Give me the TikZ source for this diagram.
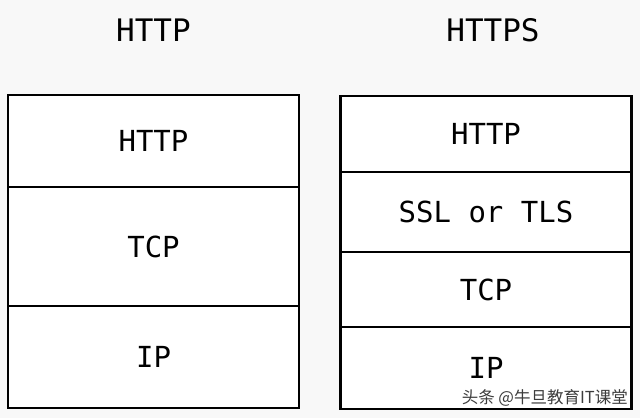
\documentclass[tikz,border=0pt]{standalone}
\usepackage{fontspec}
\usetikzlibrary{positioning}
\newfontfamily\stackfont{DejaVu Sans Mono}
\newfontfamily\cjk{Noto Sans CJK SC}
\definecolor{paper}{RGB}{248,248,248}
\definecolor{inkgray}{RGB}{60,60,60}
\tikzset{
  layer/.style = {
    draw, fill=white, line width=2.2pt, outer sep=0pt, inner sep=0pt,
    minimum width=291pt, text height=21pt, text depth=0pt,
    font=\stackfont\fontsize{29}{34}\selectfont
  },
  stacktitle/.style = {font=\stackfont\fontsize{31}{36}\selectfont, inner sep=0pt},
  watermark/.style = {font=\cjk\fontsize{16.5}{19}\selectfont, text=inkgray, inner sep=0pt}
}

\begin{document}
\begin{tikzpicture}[x=1pt,y=-1pt]
  % canvas
  \fill[paper] (0,0) rectangle (640,418);
  \useasboundingbox (0,0) rectangle (640,418);
  % titles
  \node[stacktitle] (ltitle) at (153.5,30) {HTTP};
  \node[stacktitle] (rtitle) at (493,30) {HTTPS};
  % plain stack
  \node[layer, minimum height=92pt, anchor=north] (lhttp) at (153.5,95) {HTTP};
  \node[layer, minimum height=119pt, below=0pt of lhttp] (ltcp) {TCP};
  \node[layer, minimum height=102pt, below=0pt of ltcp, text depth=-5pt] (lip) {IP};
  % secure stack
  \node[layer, minimum height=76pt, anchor=north] (rhttp) at (486,96) {HTTP};
  \node[layer, minimum height=80pt, below=0pt of rhttp] (rssl) {SSL or TLS};
  \node[layer, minimum height=75pt, below=0pt of rssl] (rtcp) {TCP};
  \node[layer, minimum height=82pt, below=0pt of rtcp, text depth=-12pt] (rip) {IP};
  % source mark
  \node[watermark, anchor=south east] (wm) at (628,407) {头条 @牛旦教育IT课堂};
\end{tikzpicture}
\end{document}
